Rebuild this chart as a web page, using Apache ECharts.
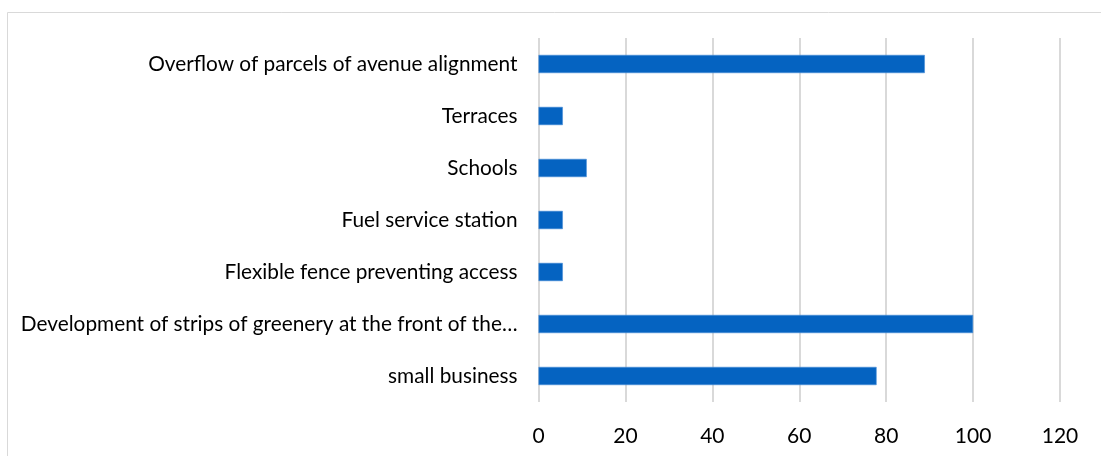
<!DOCTYPE html>
<html>
<head>
<meta charset="utf-8">
<script src="https://cdn.jsdelivr.net/npm/echarts@6/dist/echarts.min.js"></script>
<style>
  html, body { margin: 0; padding: 0; background: #ffffff; }
  #chart { width: 1101px; height: 456px; }
</style>
</head>
<body>
<div id="chart"></div>
<script>
// Categories listed bottom-to-top (category y axis starts at the bottom)
const categories = [
  'small business',
  'Development of strips of greenery at the front of the\u2026',
  'Flexible fence preventing access',
  'Fuel service station',
  'Schools',
  'Terraces',
  'Overflow of parcels of avenue alignment'
];
const values = [77.8, 100, 5.6, 5.6, 11.1, 5.6, 88.9];
const xTicks = { min: 0, max: 120, interval: 20 };

const chart = echarts.init(document.getElementById('chart'), null, { renderer: 'canvas' });
const FONT = 'Lato, "Open Sans", sans-serif';

chart.setOption({
  animation: false,
  backgroundColor: '#ffffff',
  graphic: [{
    type: 'rect',
    left: 5, top: 10,
    shape: { width: 1120, height: 470 },
    style: { fill: 'none', stroke: '#d9d9d9', lineWidth: 1 },
    silent: true
  }],
  grid: { left: 538.5, right: 41, top: 38, bottom: 54, containLabel: false },
  xAxis: {
    type: 'value',
    min: xTicks.min, max: xTicks.max, interval: xTicks.interval,
    axisLine: { show: false },
    axisTick: { show: false },
    splitLine: { show: true, lineStyle: { color: '#cccccc', width: 1.5 } },
    axisLabel: { color: '#000000', fontSize: 21, fontFamily: FONT, margin: 24 }
  },
  yAxis: {
    type: 'category',
    data: categories,
    axisLine: { show: false },
    axisTick: { show: false },
    axisLabel: { color: '#000000', fontSize: 20.8, fontFamily: FONT, margin: 21 }
  },
  series: [{
    type: 'bar',
    data: values,
    barCategoryGap: '65%',
    itemStyle: { color: '#0563c1', borderColor: '#4a8fd8', borderWidth: 0.6 }
  }]
});
</script>
</body>
</html>
